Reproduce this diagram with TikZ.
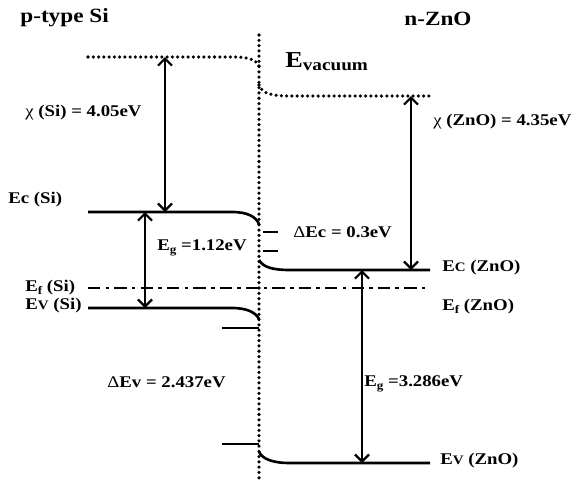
\documentclass[tikz,border=0pt]{standalone}
\usepackage{fontspec}
\setmainfont{Liberation Serif}[FakeStretch=1.15]
\usetikzlibrary{arrows.meta}
\tikzset{>={Straight Barb[length=4pt,width=8pt]}}
\tikzset{
  band/.style={line width=1.5pt},
  vac/.style={line width=2pt, line cap=round, dash pattern=on 0pt off 3pt},
  fermi/.style={line width=1.6pt, dash pattern=on 7pt off 3pt on 2pt off 3pt},
  gaparrow/.style={line width=1.3pt, <->},
  lbl/.style={font=\bfseries\fontsize{9.3}{11}\selectfont, inner sep=0pt, anchor=west},
  ttl/.style={font=\bfseries\fontsize{11.5}{13}\selectfont, inner sep=0pt},
}
\newcommand{\sbs}[1]{\raisebox{-0.35ex}{\fontsize{6.5}{7}\selectfont #1}}
\newcommand{\sml}[1]{{\fontsize{7.4}{8}\selectfont #1}}

\begin{document}
\begin{tikzpicture}[x=0.02cm, y=-0.02cm]
    \useasboundingbox (0,0) rectangle (576,481);
    \def\XL{88}    % left end of Si bands
    \def\XI{259}   % interface
    \def\XR{430}   % right end of ZnO bands

    % interface
    \draw[vac] (\XI,35) -- (\XI,481);

    % vacuum level
    \draw[vac] (\XL,57) -- (235,57) .. controls (250,57) and (257,61) .. (\XI,66);
    \draw[vac] (\XI,85) .. controls (262,93) and (270,96) .. (290,96) -- (\XR,96);

    % Si bands
    \draw[band] (\XL,212) -- (232,212) .. controls (248,212) and (256,217) .. (\XI,224);
    \draw[band] (\XL,308) -- (232,308) .. controls (248,308) and (256,313) .. (\XI,319);
    % ZnO bands
    \draw[band] (\XI,260) .. controls (263,267) and (272,270) .. (290,270) -- (\XR,270);
    \draw[band] (\XI,452) .. controls (263,459) and (272,463) .. (290,463) -- (\XR,463);
    % Fermi level
    \draw[fermi] (\XL,288) -- (\XR,288);

    % offset marks
    \draw[line width=0.9pt] (263,232) -- (278,232);
    \draw[line width=0.9pt] (263,251) -- (278,251);
    \draw[band] (222,328) -- (\XI,328);
    \draw[band] (222,444) -- (\XI,444);

    % arrow ends
    \coordinate (chiSiT) at (165,57);
    \coordinate (chiSiB) at (165,212);
    \coordinate (gSiT) at (145,212);
    \coordinate (gSiB) at (145,308);
    \coordinate (chiZnT) at (411,96);
    \coordinate (chiZnB) at (411,270);
    \coordinate (gZnT) at (362,270);
    \coordinate (gZnB) at (362,463);
    \draw[gaparrow] (chiSiT) -- (chiSiB);
    \draw[gaparrow] (gSiT) -- (gSiB);
    \draw[gaparrow] (chiZnT) -- (chiZnB);
    \draw[gaparrow] (gZnT) -- (gZnB);

    % labels
    \node[ttl, anchor=west] (pSi) at (20,18) {p-type Si};
    \node[ttl] (nZnO) at (438,19) {n-ZnO};
    \node[lbl] (evac) at (285,62) {{\fontsize{13}{15}\selectfont E}\raisebox{-0.4ex}{\fontsize{9.5}{10}\selectfont vacuum}};
    \node[lbl] (chiSi) at (25,113) {{\mdseries χ} (Si) = 4.05eV};
    \node[lbl] (chiZn) at (433,122) {{\mdseries χ} (ZnO) = 4.35eV};
    \node[lbl] (EcSi) at (8,200) {Ec (Si)};
    \node[lbl] (gSi) at (157,248) {E\sbs{g} =1.12eV};
    \node[lbl] (EfSi) at (25,288) {E\sbs{f} (Si)};
    \node[lbl] (EvSi) at (25,306) {E\sml{V} (Si)};
    \node[lbl] (dEc) at (293,232) {{\mdseries Δ}Ec = 0.3eV};
    \node[lbl] (EcZn) at (442,268) {E\sml{C} (ZnO)};
    \node[lbl] (EfZn) at (442,307) {E\sbs{f} (ZnO)};
    \node[lbl] (dEv) at (107,382) {{\mdseries Δ}Ev = 2.437eV};
    \node[lbl] (gZn) at (364,384) {E\sbs{g} =3.286eV};
    \node[lbl] (EvZn) at (440,461) {E\sml{V} (ZnO)};
\end{tikzpicture}
\end{document}
